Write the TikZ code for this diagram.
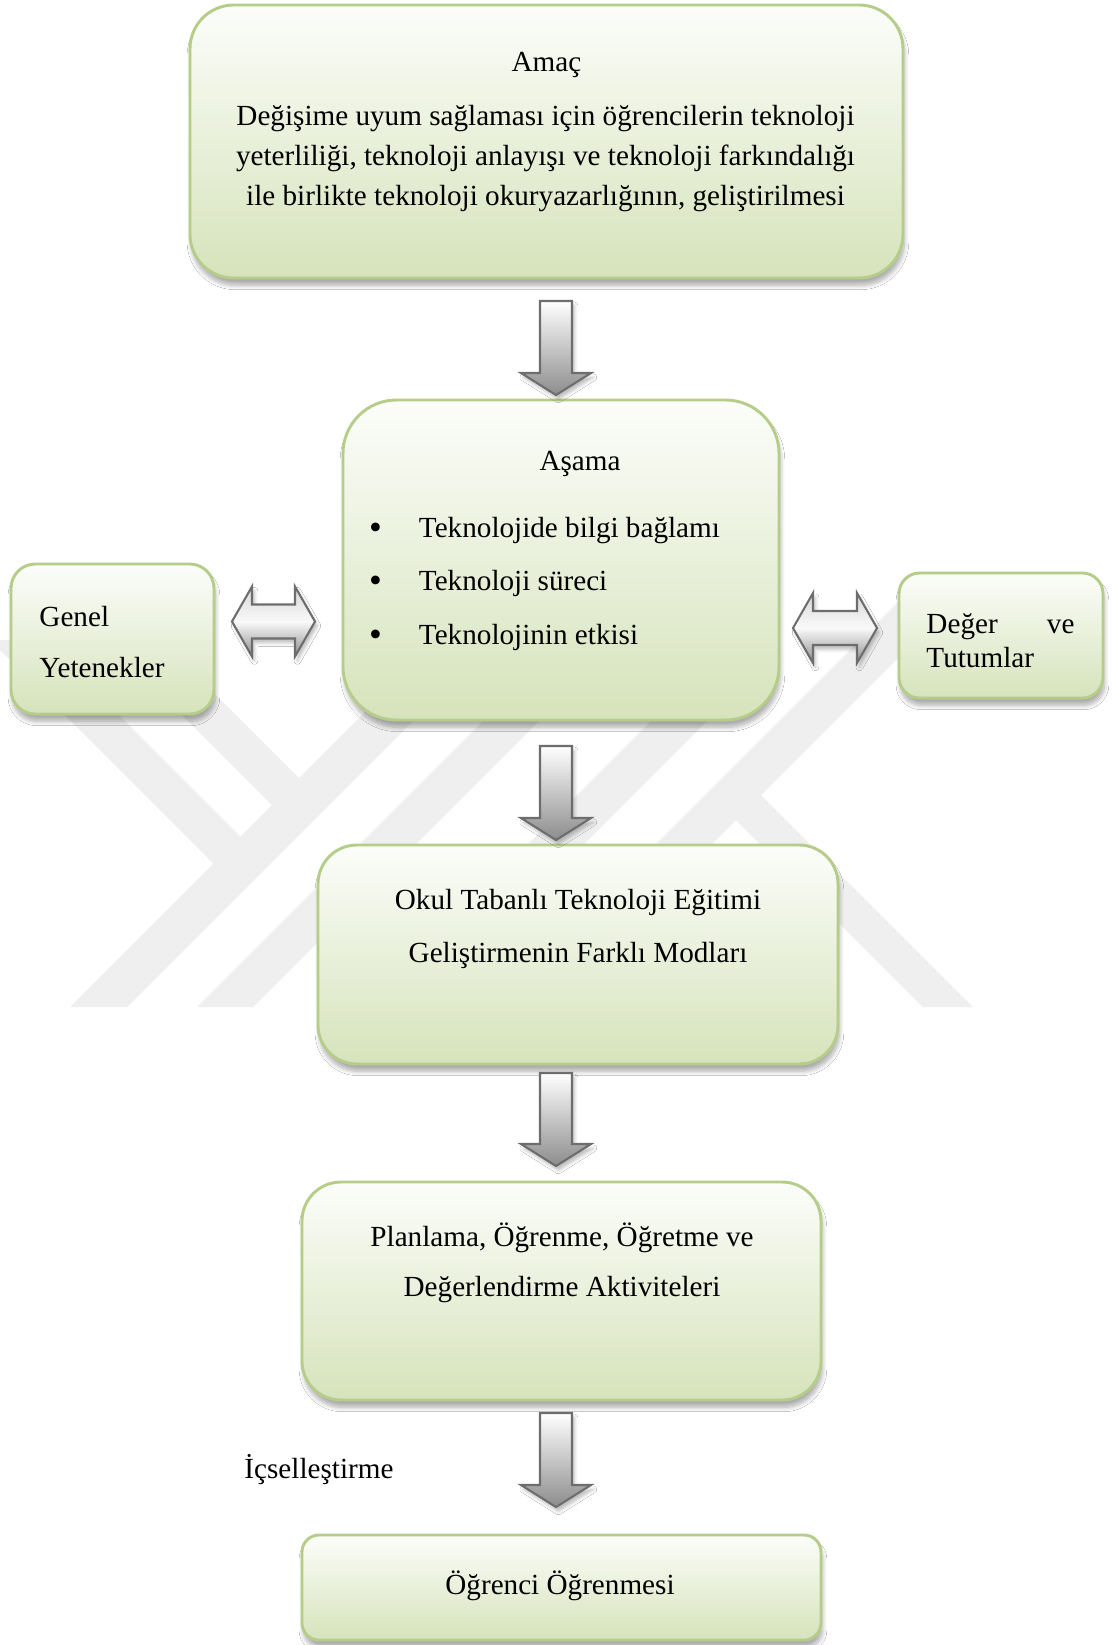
\documentclass[tikz,border=0pt]{standalone}
\usepackage{fontspec}
\setmainfont{Liberation Serif}
\usetikzlibrary{fit,shadows.blur}

\definecolor{boxline}{HTML}{B5CD89}
\definecolor{boxtop}{HTML}{FCFDFA}
\definecolor{boxbot}{HTML}{D6E3BB}
\definecolor{arrline}{HTML}{6D6D6D}
\definecolor{wmark}{HTML}{EFEFEF}

% vertical block arrow: top y, tip y (x fixed on the column axis)
\newcommand\downblock[2]{%
  \draw[blockarrow] (540,#1) -- (572,#1) -- (572,#2-22) -- (591,#2-22) -- (556,#2)
    -- (521,#2-22) -- (540,#2-22) -- cycle;}
% horizontal two-headed block arrow: left tip x, right tip x, axis y
\newcommand\twinblock[3]{%
  \draw[twinarrow] (#1,#3) -- (#1+20,#3-35) -- (#1+20,#3-17) -- (#2-20,#3-17)
    -- (#2-20,#3-35) -- (#2,#3) -- (#2-20,#3+35) -- (#2-20,#3+17)
    -- (#1+20,#3+17) -- (#1+20,#3+35) -- cycle;}

\begin{document}
\begin{tikzpicture}[x=0.4114pt, y=-0.4114pt,
  lbl/.style={inner sep=0pt, font=\fontsize{12}{14}\selectfont, anchor=base},
  lblw/.style={lbl, anchor=base west},
  lble/.style={lbl, anchor=base east},
  bul/.style={lbl, font=\fontsize{15}{15}\selectfont},
  stagebox/.style={draw=boxline, line width=1.2pt, top color=boxtop, bottom color=boxbot,
    inner sep=0pt, rounded corners=#1,
    blur shadow={shadow xshift=0.6pt, shadow yshift=-3pt, shadow blur radius=1.8pt,
      shadow blur steps=8, shadow opacity=32}},
  stagebox/.default=15pt,
  blockarrow/.style={draw=arrline, line width=0.85pt, line join=miter, top color=white, bottom color=black!45,
    blur shadow={shadow xshift=1pt, shadow yshift=-1.8pt, shadow blur radius=1.4pt, shadow opacity=26}},
  twinarrow/.style={draw=arrline, line width=0.85pt, line join=miter, top color=black!16,
    bottom color=black!45, middle color=black!2,
    blur shadow={shadow xshift=1pt, shadow yshift=-1.8pt, shadow blur radius=1.4pt, shadow opacity=26}},
  band/.style={fill=wmark, draw=none}
]
\fill[white, use as bounding box] (0,0) rectangle (1113,1645);

% faint emblem behind the chart
\fill[band] (70,1007) -- (127,1007) -- (484,650) -- (427,650) -- cycle;
\fill[band] (44,640) -- (-10,640) -- (227.5,877.5) -- (254.5,850.5) -- cycle;
\fill[band] (121,600) -- (67,600) -- (286,819) -- (313,792) -- cycle;
\fill[band] (197,1007) -- (253,1007) -- (610,650) -- (554,650) -- cycle;
\fill[band] (365,1007) -- (421,1007) -- (778,650) -- (722,650) -- cycle;
\fill[band] (493,1007) -- (549,1007) -- (956,600) -- (900,600) -- cycle;
\fill[band] (923,1007) -- (973,1007) -- (747,781) -- (722,806) -- cycle;

% stage boxes
\node[stagebox=18pt, fit={(190,5) (903,278)}] (amac) {};
\node[stagebox=22pt, fit={(343,400) (779,720)}] (asama) {};
\node[stagebox=10pt, fit={(11,564) (214,714)}] (genel) {};
\node[stagebox=8.5pt, fit={(899,573) (1103,698)}] (deger) {};
\node[stagebox=16pt, fit={(318,845) (838,1064)}] (okul) {};
\node[stagebox=16pt, fit={(302,1182) (821,1400)}] (plan) {};
\node[stagebox=7pt, fit={(302,1535) (821,1640)}] (ogrenci) {};

% arrows between the stages
\downblock{301}{395}
\downblock{746}{840}
\downblock{1073}{1166}
\downblock{1413}{1507}
\twinblock{232}{315}{621.5}
\twinblock{793}{877}{628}

% texts
\node[lbl] (amac-h) at (546.5,71) {Amaç};
\node[lbl] (amac-1) at (545.5,125.5) {Değişime uyum sağlaması için öğrencilerin teknoloji};
\node[lbl] (amac-2) at (545.5,165.5) {yeterliliği, teknoloji anlayışı ve teknoloji farkındalığı};
\node[lbl] (amac-3) at (545.5,205.5) {ile birlikte teknoloji okuryazarlığının, geliştirilmesi};

\node[lbl] (asama-h) at (580,470) {Aşama};
\node[bul] (b1) at (375.5,539) {\textbullet};
\node[bul] (b2) at (375.5,592) {\textbullet};
\node[bul] (b3) at (375.5,646) {\textbullet};
\node[lblw] (asama-1) at (418.5,537) {Teknolojide bilgi bağlamı};
\node[lblw] (asama-2) at (418.5,590) {Teknoloji süreci};
\node[lblw] (asama-3) at (418.5,644) {Teknolojinin etkisi};

\node[lblw] (genel-1) at (39,626) {Genel};
\node[lblw] (genel-2) at (39,677) {Yetenekler};

\node[lblw] (deger-1) at (926,633) {Değer};
\node[lble] (deger-2) at (1075,633) {ve};
\node[lblw] (deger-3) at (926,667) {Tutumlar};

\node[lbl] (okul-1) at (578,909) {Okul Tabanlı Teknoloji Eğitimi};
\node[lbl] (okul-2) at (578,962) {Geliştirmenin Farklı Modları};

\node[lbl] (plan-1) at (562,1246) {Planlama, Öğrenme, Öğretme ve};
\node[lbl] (plan-2) at (562,1296) {Değerlendirme Aktiviteleri};

\node[lblw] (icsel) at (244,1478) {İçselleştirme};

\node[lbl] (ogrenci-t) at (560,1594) {Öğrenci Öğrenmesi};
\end{tikzpicture}
\end{document}
